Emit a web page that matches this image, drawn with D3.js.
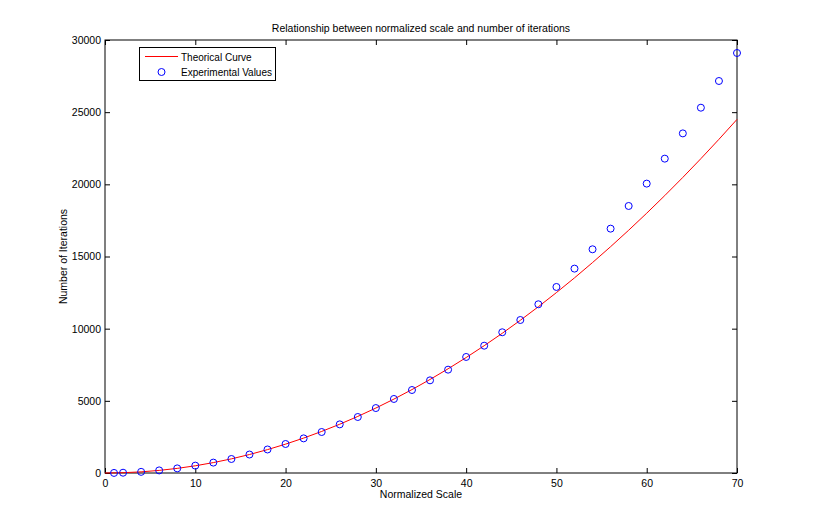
<!DOCTYPE html>
<html><head><meta charset="utf-8">
<script src="https://cdn.jsdelivr.net/npm/d3@7"></script>
<style>
body{margin:0;background:#fff;}
text{font-family:"Liberation Sans",Arial,Helvetica,sans-serif;}
</style></head>
<body><svg id="chart" width="814" height="532"></svg>
<script>
const title = "Relationship between normalized scale and number of iterations";
const xLabel = "Normalized Scale";
const yLabel = "Number of Iterations";
const legendLabels = ["Theorical Curve", "Experimental Values"];
const xTicks = [0, 10, 20, 30, 40, 50, 60, 70];
const yTicks = [0, 5000, 10000, 15000, 20000, 25000, 30000];

const curveX = [0,2,4,6,8,10,12,14,16,18,20,22,24,26,28,30,32,34,36,38,40,42,44,46,48,50,52,54,56,58,60,62,64,66,68,70];
const curveY = [0,20,80,180,320,500,720,980,1280,1620,2000,2420,2880,3380,3920,4500,5120,5780,6480,7220,8000,8820,9680,10580,11520,12500,13520,14580,15680,16820,18000,19220,20480,21780,23120,24500];

const expX = [1,2,4,6,8,10,12,14,16,18,20,22,24,26,28,30,32,34,36,38,40,42,44,46,48,50,52,54,56,58,60,62,64,66,68,70];
const expY = [5,20,80,180,320,510,720,970,1280,1630,2010,2400,2840,3370,3880,4500,5130,5750,6420,7160,8040,8820,9750,10600,11690,12890,14160,15500,16930,18500,20050,21780,23530,25310,27160,29100];

const svg = d3.select("#chart");
const L = 105, R = 737, T = 40, B = 473;
const x = d3.scaleLinear().domain([0, 70]).range([L, R]);
const y = d3.scaleLinear().domain([0, 30000]).range([B, T]);

const tl = 5;
svg.append("g").attr("transform", `translate(0,${B})`)
  .call(d3.axisBottom(x).tickValues(xTicks).tickSizeInner(-tl).tickSizeOuter(0).tickPadding(7))
  .call(g => g.select(".domain").remove());
svg.append("g").attr("transform", `translate(0,${T})`)
  .call(d3.axisTop(x).tickValues(xTicks).tickSizeInner(-tl).tickSizeOuter(0).tickFormat(""))
  .call(g => g.select(".domain").remove());
svg.append("g").attr("transform", `translate(${L},0)`)
  .call(d3.axisLeft(y).tickValues(yTicks).tickFormat(d3.format("d")).tickSizeInner(-tl).tickSizeOuter(0).tickPadding(4))
  .call(g => g.select(".domain").remove());
svg.append("g").attr("transform", `translate(${R},0)`)
  .call(d3.axisRight(y).tickValues(yTicks).tickSizeInner(-tl).tickSizeOuter(0).tickFormat(""))
  .call(g => g.select(".domain").remove());
svg.selectAll(".tick text").attr("font-size", 10.5).attr("fill", "#000")
  .attr("font-family", "'Liberation Sans',Arial,sans-serif");
svg.selectAll(".tick line").attr("stroke", "#000");

svg.append("rect").attr("x", L).attr("y", T).attr("width", R - L).attr("height", B - T)
  .attr("fill", "none").attr("stroke", "#000").attr("stroke-width", 1);

const line = d3.line().x((d, i) => x(curveX[i])).y(d => y(d));
svg.append("path").datum(curveY).attr("d", line)
  .attr("fill", "none").attr("stroke", "#ff0000").attr("stroke-width", 1);

svg.append("g").selectAll("circle").data(expY).join("circle")
  .attr("cx", (d, i) => x(expX[i])).attr("cy", d => y(d)).attr("r", 3.5)
  .attr("fill", "none").attr("stroke", "#0000ff").attr("stroke-width", 1);

svg.append("text").attr("x", (L + R) / 2).attr("y", 32).attr("text-anchor", "middle")
  .attr("font-size", 10.5).text(title);
svg.append("text").attr("x", (L + R) / 2).attr("y", 498).attr("text-anchor", "middle")
  .attr("font-size", 10.5).text(xLabel);
svg.append("text").attr("transform", `translate(67,${(T + B) / 2}) rotate(-90)`)
  .attr("text-anchor", "middle").attr("font-size", 10.5).text(yLabel);

// legend
const lg = svg.append("g");
lg.append("rect").attr("x", 139.5).attr("y", 47.5).attr("width", 136).attr("height", 33)
  .attr("fill", "#fff").attr("stroke", "#000");
lg.append("line").attr("x1", 145).attr("x2", 178).attr("y1", 56.5).attr("y2", 56.5)
  .attr("stroke", "#ff0000");
lg.append("circle").attr("cx", 161.5).attr("cy", 72).attr("r", 3.5)
  .attr("fill", "none").attr("stroke", "#0000ff");
lg.append("text").attr("x", 181).attr("y", 60.5).attr("font-size", 10).text(legendLabels[0]);
lg.append("text").attr("x", 181).attr("y", 76).attr("font-size", 10).text(legendLabels[1]);
</script></body></html>
